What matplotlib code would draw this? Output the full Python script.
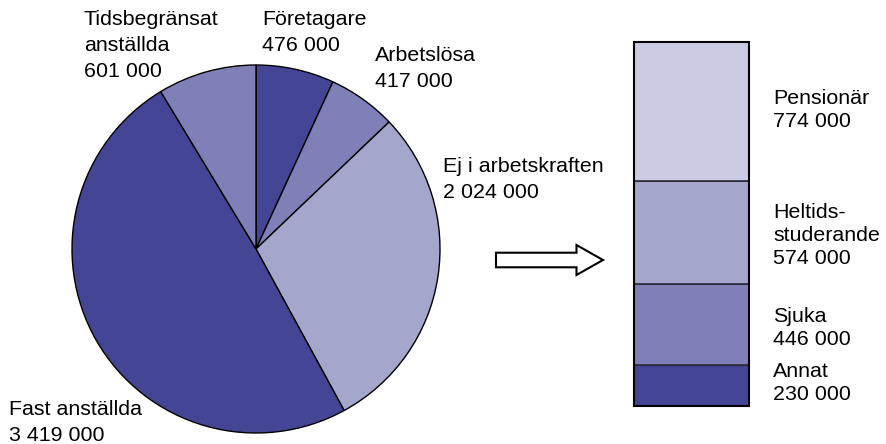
import matplotlib
matplotlib.use("Agg")
import matplotlib.pyplot as plt
import matplotlib.patches as mpatches

plt.rcParams["font.family"] = ["Liberation Sans", "DejaVu Sans"]

# --- data ---
pie_labels = ["Företagare", "Arbetslösa", "Ej i arbetskraften",
              "Fast anställda", "Tidsbegränsat\nanställda"]
pie_values = [476000, 417000, 2024000, 3419000, 601000]
pie_colors = ["#454595", "#8080b8", "#a4a6cc", "#454595", "#8080b8"]

bar_labels = ["Annat", "Sjuka", "Heltids-\nstuderande", "Pensionär"]
bar_values = [230000, 446000, 574000, 774000]
bar_colors = ["#454595", "#8080b8", "#a4a6cc", "#cacbe3"]

# label anchors in pixels (left x, first baseline y from top)
pie_label_pos = [(262, 25), (375, 61), (443, 172), (9, 415), (84, 25)]
bar_label_pos = [(773, 377), (773, 322), (773, 218), (773, 104)]

W, H = 886, 444
FS = 15.4


def fmt(v):
    return f"{v:,}".replace(",", " ")


fig = plt.figure(figsize=(W / 100, H / 100), dpi=100)
ax = fig.add_axes([0, 0, 1, 1])

ax.pie(pie_values, colors=pie_colors, startangle=90, counterclock=False,
       center=(256, H - 249), radius=184,
       wedgeprops=dict(edgecolor="black", linewidth=1))
ax.set_xlim(0, W)
ax.set_ylim(0, H)
ax.set_aspect("equal")
ax.axis("off")


def put_label(x, y_top, text, step):
    for i, line in enumerate(text.split("\n")):
        ax.text(x, H - (y_top + i * step), line, fontsize=FS,
                va="baseline", ha="left", color="black")


for lab, val, (x, y) in zip(pie_labels, pie_values, pie_label_pos):
    put_label(x, y, f"{lab}\n{fmt(val)}", 26)

# arrow
arrow = mpatches.FancyArrow(496, H - 260, 107, 0, width=14.6, head_width=30,
                            head_length=26.5, length_includes_head=True,
                            facecolor="white", edgecolor="black", linewidth=1.5)
ax.add_patch(arrow)

# stacked bar
ax2 = fig.add_axes([634 / W, (H - 406) / H, 115 / W, 364 / H])
bottom = 0
for val, col in zip(bar_values, bar_colors):
    ax2.bar(0, val, bottom=bottom, width=1, color=col,
            edgecolor="#2a2a3a", linewidth=1.2)
    bottom += val
ax2.set_xlim(-0.5, 0.5)
ax2.set_ylim(0, sum(bar_values))
ax2.axis("off")
ax2.add_patch(mpatches.Rectangle((0, 0), 1, 1, transform=ax2.transAxes,
                                 fill=False, edgecolor="black", linewidth=1.5,
                                 clip_on=False))

for lab, val, (x, y) in zip(bar_labels, bar_values, bar_label_pos):
    put_label(x, y, f"{lab}\n{fmt(val)}", 23)

fig.savefig("out.png", dpi=100)
